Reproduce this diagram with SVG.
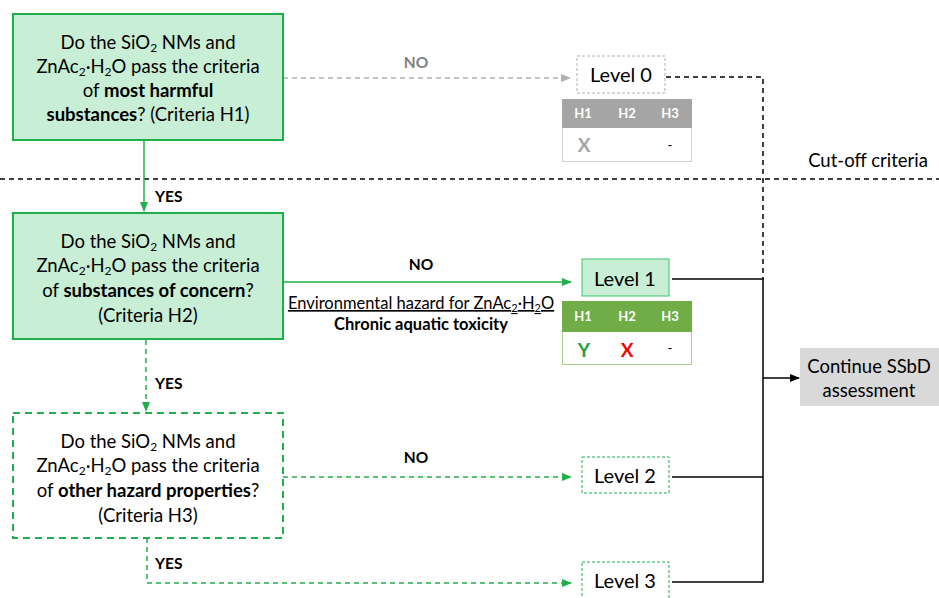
<svg xmlns="http://www.w3.org/2000/svg" width="939" height="598" viewBox="0 0 939 598">
<defs>
<style>
text{font-family:Lato,"Liberation Sans",sans-serif;fill:#000}
.q{font-size:18.5px;text-anchor:middle}
.b{font-weight:bold}
.lvl{font-size:20px;text-anchor:middle}
.lbl{font-size:15.5px;font-weight:bold}
.th{font-size:13px;font-weight:bold;fill:#fff;text-anchor:middle}
.tb{font-size:19px;font-weight:bold;text-anchor:middle}
.solidG{fill:#c8eed6;stroke:#1fb04a;stroke-width:2}
.dashG{fill:#fff;stroke:#1fb04a;stroke-width:2;stroke-dasharray:7,5}
.gline{fill:none;stroke:#1fb04a;stroke-width:1.5}
.gdash{fill:none;stroke:#1fb04a;stroke-width:1.5;stroke-dasharray:5,4}
.kline{fill:none;stroke:#000;stroke-width:1.5}
.kdash{fill:none;stroke:#000;stroke-width:1.5;stroke-dasharray:5,4}
</style>
<marker id="ag" markerWidth="10" markerHeight="10" refX="9" refY="5" orient="auto" markerUnits="userSpaceOnUse"><path d="M0,1 L10,5 L0,9 z" fill="#1fb04a"/></marker>
<marker id="agr" markerWidth="10" markerHeight="10" refX="9" refY="5" orient="auto" markerUnits="userSpaceOnUse"><path d="M0,1 L10,5 L0,9 z" fill="#b0b0b0"/></marker>
<marker id="ak" markerWidth="10" markerHeight="10" refX="9" refY="5" orient="auto" markerUnits="userSpaceOnUse"><path d="M0,1 L10,5 L0,9 z" fill="#000"/></marker>
</defs>
<rect width="939" height="598" fill="#fff"/>

<g id="connectors">
<path d="M283,78 H570" fill="none" stroke="#b0b0b0" stroke-width="1.5" stroke-dasharray="5,4" marker-end="url(#agr)"/>
<path d="M666,77 H763 V279" class="kdash"/>
<path d="M0,179 H939" class="kdash"/>
<path d="M144,140 V211" class="gline" marker-end="url(#ag)"/>
<path d="M283,282 H571" class="gline" marker-end="url(#ag)"/>
<path d="M146,340 V411" class="gdash" marker-end="url(#ag)"/>
<path d="M283,477 H571" class="gdash" marker-end="url(#ag)"/>
<path d="M147,538 V583 H571" class="gdash" marker-end="url(#ag)"/>
<path d="M672,279 H763 V582 H672" class="kline"/>
<path d="M672,477 H763" class="kline"/>
<path d="M763,378 H799" class="kline" marker-end="url(#ak)"/>
<text x="416" y="68" class="lbl" text-anchor="middle" style="fill:#808080">NO</text>
<text x="421" y="270" class="lbl" text-anchor="middle">NO</text>
<text x="416" y="463" class="lbl" text-anchor="middle">NO</text>
<text x="155" y="202" class="lbl">YES</text>
<text x="155" y="389" class="lbl">YES</text>
<text x="155" y="569" class="lbl">YES</text>
<text x="421" y="309" font-size="16.5" text-anchor="middle" text-decoration="underline">Environmental hazard for ZnAc<tspan font-size="11" dy="3">2</tspan><tspan dy="-3">·H</tspan><tspan font-size="11" dy="3">2</tspan><tspan dy="-3">O</tspan></text>
<text x="421" y="330" font-size="16.5" font-weight="bold" text-anchor="middle">Chronic aquatic toxicity</text>
<text x="868" y="167" font-size="18.5" text-anchor="middle">Cut-off criteria</text>
</g>

<g id="q1">
<rect x="13" y="14" width="270" height="126" class="solidG"/>
<text class="q" x="148" y="49">Do the SiO<tspan font-size="12" dy="3">2</tspan><tspan dy="-3"> NMs and</tspan></text>
<text class="q" x="148" y="73">ZnAc<tspan font-size="12" dy="3">2</tspan><tspan dy="-3">·H</tspan><tspan font-size="12" dy="3">2</tspan><tspan dy="-3">O pass the criteria</tspan></text>
<text class="q" x="148" y="97">of <tspan class="b">most harmful</tspan></text>
<text class="q" x="148" y="121"><tspan class="b">substances</tspan>? (Criteria H1)</text>
</g>

<g id="q2">
<rect x="13" y="213" width="270" height="126" class="solidG"/>
<text class="q" x="148" y="248">Do the SiO<tspan font-size="12" dy="3">2</tspan><tspan dy="-3"> NMs and</tspan></text>
<text class="q" x="148" y="272">ZnAc<tspan font-size="12" dy="3">2</tspan><tspan dy="-3">·H</tspan><tspan font-size="12" dy="3">2</tspan><tspan dy="-3">O pass the criteria</tspan></text>
<text class="q" x="148" y="297">of <tspan class="b">substances of concern</tspan>?</text>
<text class="q" x="148" y="322">(Criteria H2)</text>
</g>

<g id="q3">
<rect x="13" y="413" width="270" height="125" class="dashG"/>
<text class="q" x="148" y="448">Do the SiO<tspan font-size="12" dy="3">2</tspan><tspan dy="-3"> NMs and</tspan></text>
<text class="q" x="148" y="472">ZnAc<tspan font-size="12" dy="3">2</tspan><tspan dy="-3">·H</tspan><tspan font-size="12" dy="3">2</tspan><tspan dy="-3">O pass the criteria</tspan></text>
<text class="q" x="148" y="497">of <tspan class="b">other hazard properties</tspan>?</text>
<text class="q" x="148" y="522">(Criteria H3)</text>
</g>

<g id="level0">
<rect x="577" y="56" width="88" height="37" fill="#fff" stroke="#b0b0b0" stroke-width="1" stroke-dasharray="3,2"/>
<text class="lvl" x="621" y="82">Level 0</text>
<rect x="562.5" y="99.5" width="129" height="62" fill="#fff" stroke="#d0d0d0" stroke-width="1"/>
<rect x="562" y="99" width="130" height="29" fill="#a5a5a5"/>
<text class="th" x="583" y="118">H1</text>
<text class="th" x="627" y="118">H2</text>
<text class="th" x="670" y="118">H3</text>
<text class="tb" x="584" y="152" style="fill:#a5a5a5">X</text>
<text x="670" y="150" font-size="13" text-anchor="middle">-</text>
</g>

<g id="level1">
<rect x="582" y="259" width="87" height="37" fill="#c8eed6" stroke="#3cc46a" stroke-width="1"/>
<text class="lvl" x="625" y="286">Level 1</text>
<rect x="562.5" y="301.5" width="129" height="63" fill="#fff" stroke="#a9d18e" stroke-width="1"/>
<rect x="562" y="301" width="130" height="31" fill="#70ad47"/>
<text class="th" x="583" y="321">H1</text>
<text class="th" x="627" y="321">H2</text>
<text class="th" x="670" y="321">H3</text>
<text class="tb" x="584" y="357" style="fill:#1fa045">Y</text>
<text class="tb" x="627" y="357" style="fill:#ff0000">X</text>
<text x="670" y="353" font-size="13" text-anchor="middle">-</text>
</g>

<g id="level2">
<rect x="582" y="457" width="87" height="36" fill="#fff" stroke="#1fb04a" stroke-width="1" stroke-dasharray="3,2"/>
<text class="lvl" x="625" y="483">Level 2</text>
</g>

<g id="level3">
<rect x="582" y="562" width="87" height="40" fill="#fff" stroke="#1fb04a" stroke-width="1" stroke-dasharray="3,2"/>
<text class="lvl" x="625" y="588">Level 3</text>
</g>

<g id="continue">
<rect x="800" y="348" width="139" height="58" fill="#d9d9d9"/>
<text x="869" y="373" font-size="18.5" text-anchor="middle">Continue SSbD</text>
<text x="869" y="397" font-size="18.5" text-anchor="middle">assessment</text>
</g>
</svg>
